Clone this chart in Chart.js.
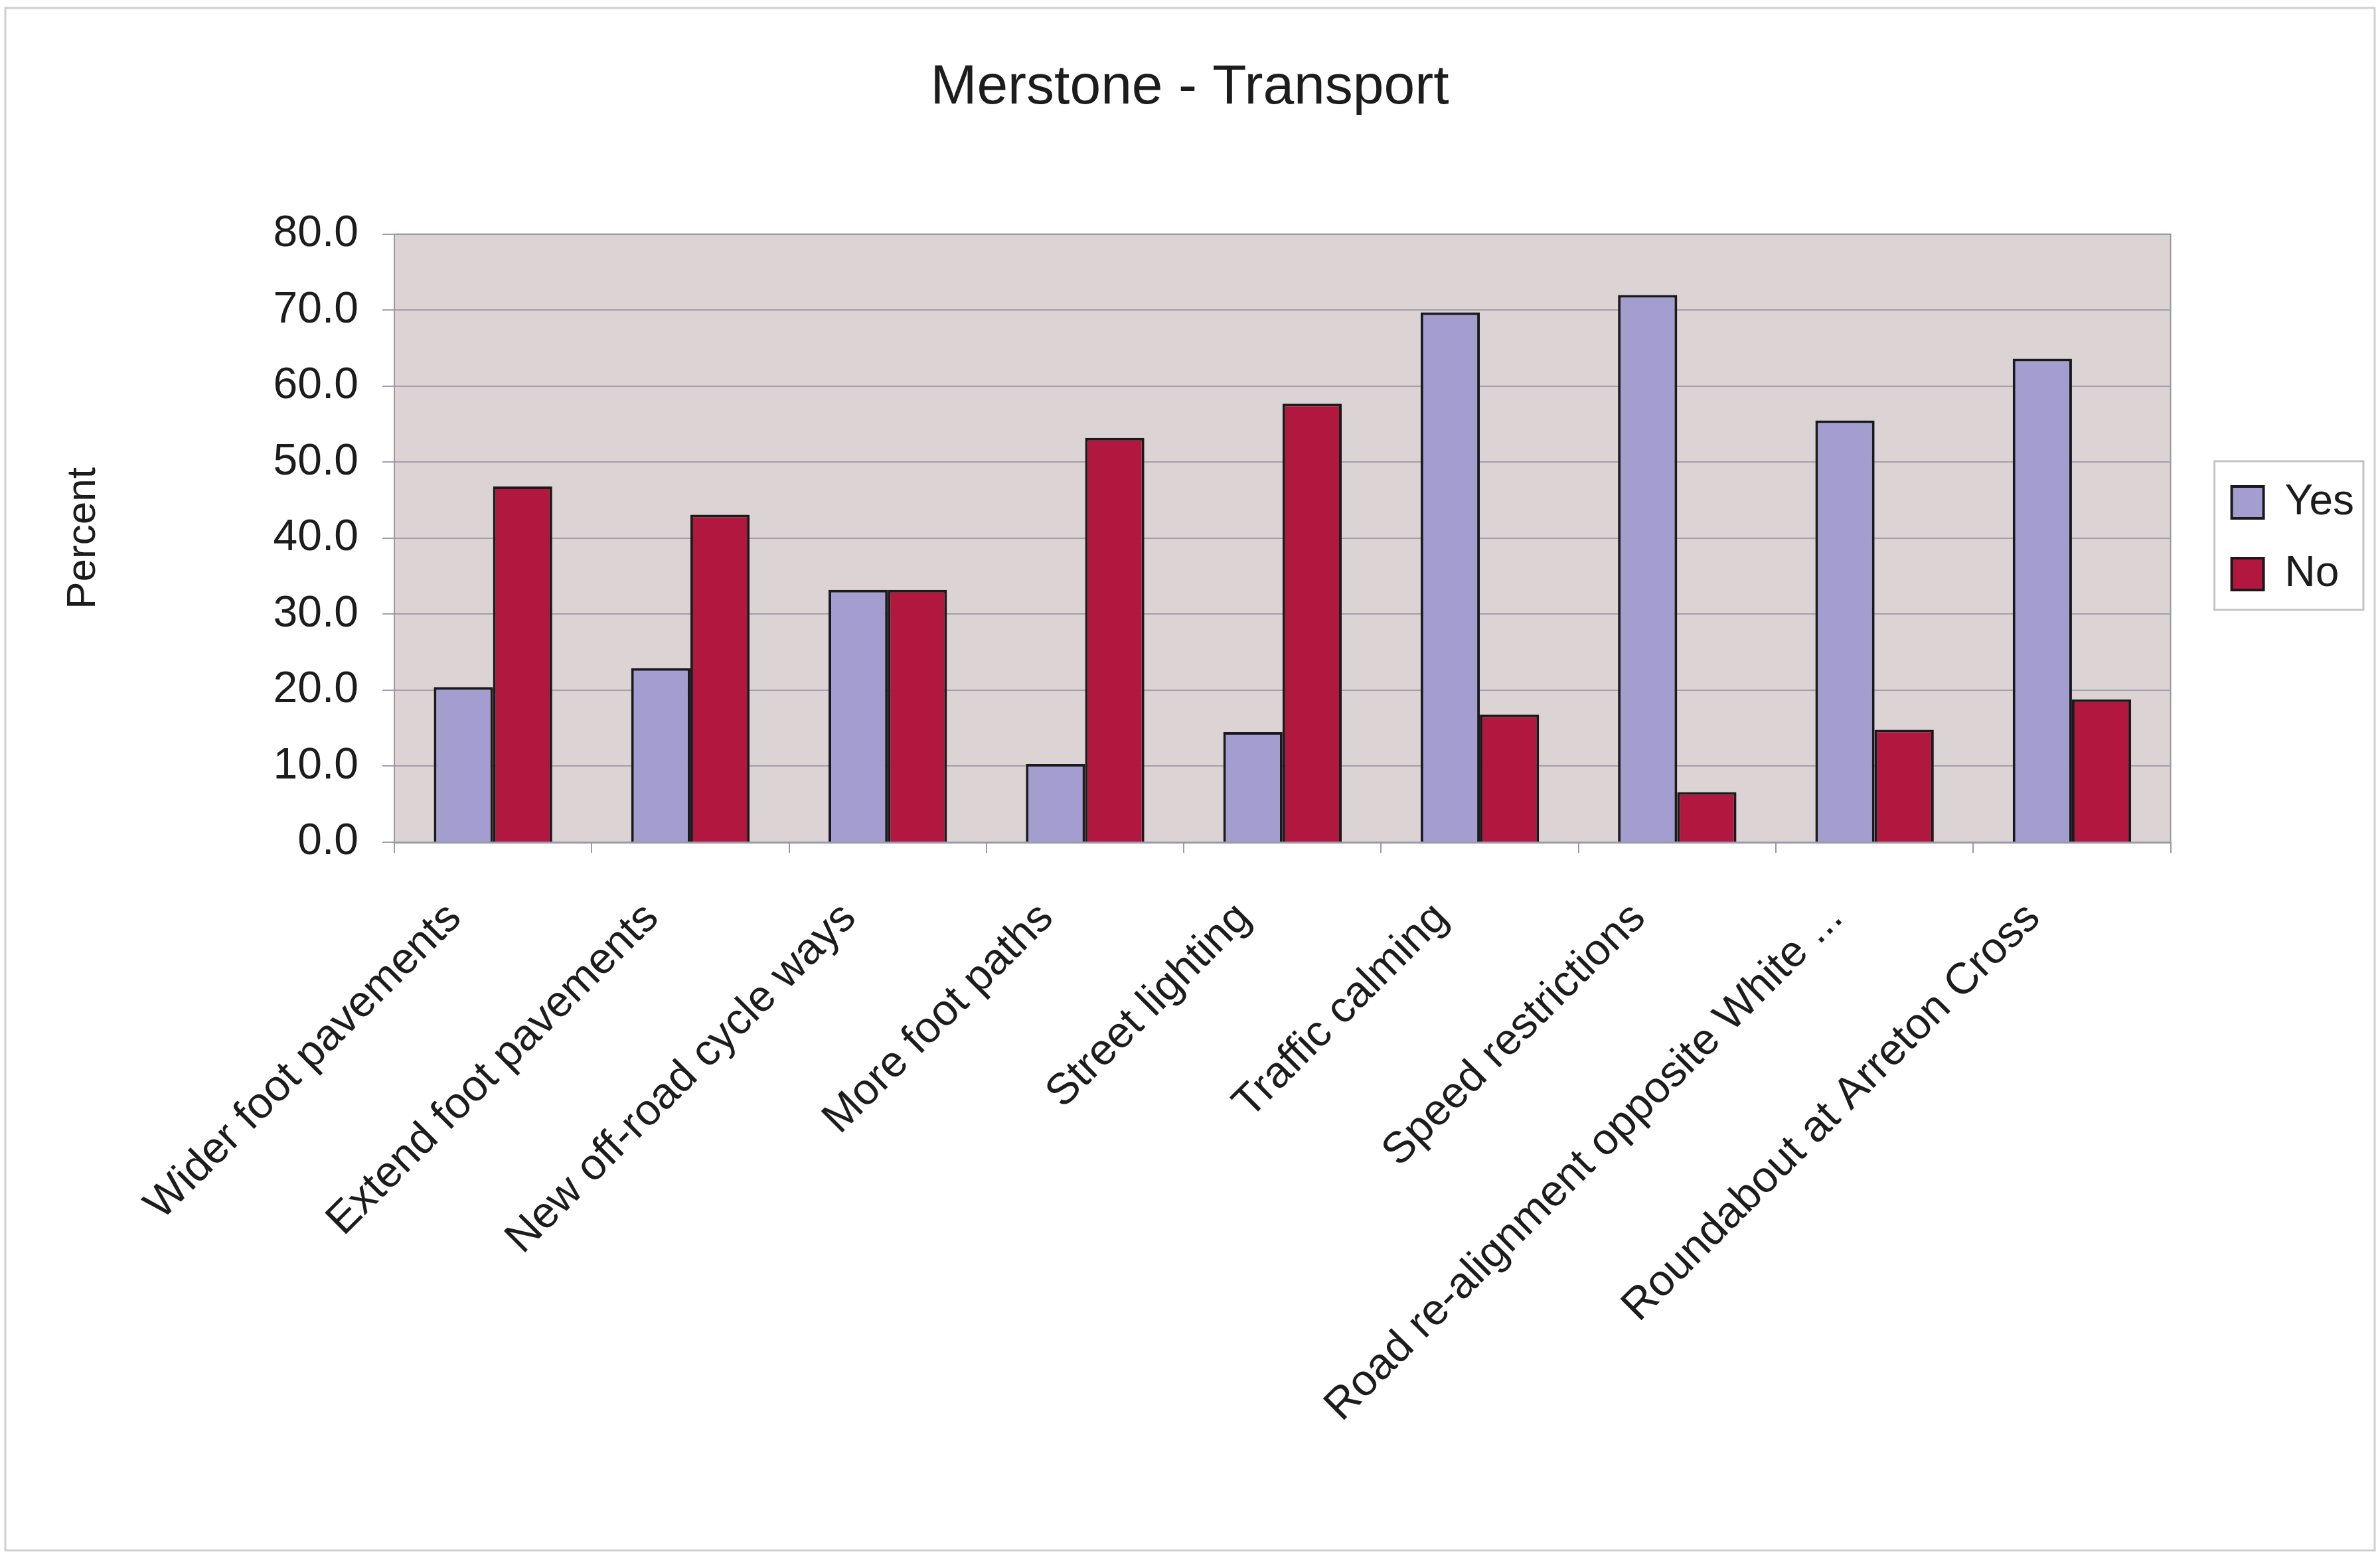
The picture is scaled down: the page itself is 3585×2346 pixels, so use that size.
<!DOCTYPE html>
<html>
<head>
<meta charset="utf-8">
<title>Merstone - Transport</title>
<script src="https://cdn.jsdelivr.net/npm/chart.js@4.4.1/dist/chart.umd.min.js"></script>
<style>
  html, body { margin: 0; padding: 0; background: #ffffff; }
  #wrap { width: 3585px; height: 2346px; }
</style>
</head>
<body>
<div id="wrap"><canvas id="transportChart" width="3585" height="2346"></canvas></div>
<script>
// values (percent)
const categories = [
  'Wider foot pavements',
  'Extend foot pavements',
  'New off-road cycle ways',
  'More foot paths',
  'Street lighting',
  'Traffic calming',
  'Speed restrictions',
  'Road re-alignment opposite White ...',
  'Roundabout at Arreton Cross'
];
const yesValues = [20.4, 22.9, 33.2, 10.3, 14.5, 69.7, 72.0, 55.5, 63.6];
const noValues = [46.8, 43.1, 33.2, 53.2, 57.7, 16.8, 6.6, 14.8, 18.8];
const seriesNames = ['Yes', 'No'];
const yMin = 0;
const yMax = 80;
const yStep = 10;

(function () {
  const fontFamily = '"Liberation Sans", Arial, sans-serif';
  const textColor = '#1c1c1c';
  const padLeft = 76;

  // paints the page frame, the grey plot background and boxes round plot + legend
  const framePlugin = {
    id: 'framePlugin',
    afterLayout(chart) {
      // push the legend a bit away from the plot, like the original
      const shift = 48;
      const lg = chart.legend;
      if (lg) {
        lg.left += shift;
        lg.right += shift;
      }
    },
    beforeDraw(chart) {
      const ctx = chart.ctx;
      const a = chart.chartArea;
      ctx.save();
      ctx.fillStyle = '#ffffff';
      ctx.fillRect(0, 0, chart.width, chart.height);
      ctx.strokeStyle = '#cfcfcf';
      ctx.lineWidth = 3;
      ctx.strokeRect(8, 12, chart.width - 16, chart.height - 22);
      ctx.fillStyle = '#dbd3d4';
      ctx.fillRect(a.left, a.top, a.right - a.left, a.bottom - a.top);
      ctx.restore();
    },
    afterDraw(chart) {
      const ctx = chart.ctx;
      const a = chart.chartArea;
      ctx.save();
      ctx.strokeStyle = '#9a9a9a';
      ctx.lineWidth = 2;
      ctx.beginPath();
      ctx.moveTo(a.left, a.top);
      ctx.lineTo(a.right, a.top);
      ctx.lineTo(a.right, a.bottom);
      ctx.stroke();
      const boxes = chart.legend ? chart.legend.legendHitBoxes : [];
      if (boxes && boxes.length) {
        const l = Math.min.apply(null, boxes.map((b) => b.left)) - 26;
        const r = Math.max.apply(null, boxes.map((b) => b.left + b.width)) + 14;
        const t = Math.min.apply(null, boxes.map((b) => b.top)) - 30;
        const btm = Math.max.apply(null, boxes.map((b) => b.top + b.height)) + 22;
        ctx.strokeStyle = '#c4c4c4';
        ctx.lineWidth = 3;
        ctx.strokeRect(l, t, r - l, btm - t);
      }
      ctx.restore();
    }
  };

  new Chart('transportChart', {
    type: 'bar',
    data: {
      labels: categories,
      datasets: [
        {
          label: seriesNames[0],
          data: yesValues,
          backgroundColor: '#a49dd0',
          borderColor: '#1a1a1a',
          borderWidth: 4
        },
        {
          label: seriesNames[1],
          data: noValues,
          backgroundColor: '#b2183f',
          borderColor: '#1a1a1a',
          borderWidth: 4
        }
      ]
    },
    options: {
      responsive: false,
      devicePixelRatio: 1,
      animation: false,
      layout: { padding: { left: padLeft, right: 77, top: 0, bottom: 60 } },
      datasets: {
        bar: { barPercentage: 1.0, categoryPercentage: 0.6 }
      },
      plugins: {
        title: {
          display: true,
          text: 'Merstone - Transport',
          color: textColor,
          font: { family: fontFamily, size: 84, weight: 'normal' },
          padding: { top: 82, bottom: 170 }
        },
        legend: {
          display: true,
          position: 'right',
          fullSize: false,
          labels: {
            color: textColor,
            font: { family: fontFamily, size: 64 },
            boxWidth: 48,
            boxHeight: 48,
            padding: 44
          }
        },
        tooltip: { enabled: false }
      },
      scales: {
        x: {
          afterFit(scale) { scale.height = 2346 - 1269 - 60; },
          grid: {
            display: true,
            drawOnChartArea: false,
            drawTicks: true,
            tickLength: 16,
            color: '#9a9aa8',
            lineWidth: 2
          },
          border: { display: true, color: '#9a9aa8', width: 3 },
          ticks: {
            color: textColor,
            font: { family: fontFamily, size: 66 },
            minRotation: 45,
            maxRotation: 45,
            autoSkip: false,
            padding: 60,
            labelOffset: -58
          }
        },
        y: {
          min: yMin,
          max: yMax,
          afterFit(scale) { scale.width = 594 - padLeft; },
          grid: {
            color: '#a2a0ac',
            lineWidth: 2,
            drawTicks: true,
            tickLength: 18
          },
          border: { display: true, color: '#9a9a9a', width: 2 },
          ticks: {
            stepSize: yStep,
            color: textColor,
            font: { family: fontFamily, size: 66 },
            padding: 36,
            callback: (v) => Number(v).toFixed(1)
          },
          title: {
            display: true,
            text: 'Percent',
            color: textColor,
            font: { family: fontFamily, size: 62 },
            padding: { top: 13, bottom: 0 }
          }
        }
      }
    },
    plugins: [framePlugin]
  });
})();
</script>
</body>
</html>
